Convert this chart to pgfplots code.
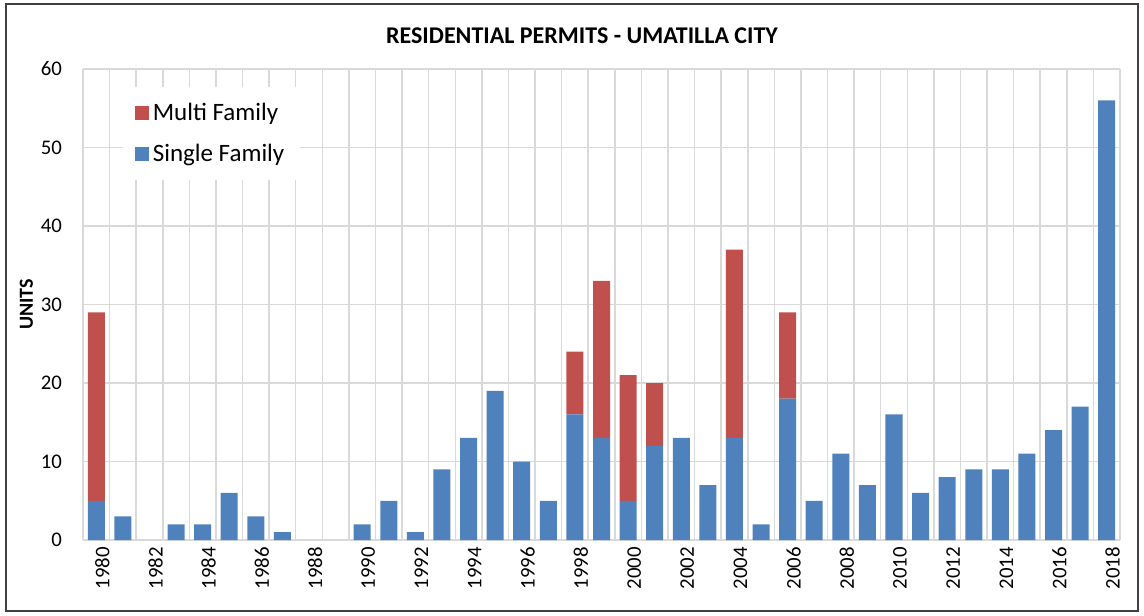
\documentclass[border=0pt]{standalone}
\usepackage{pgfplots}
\pgfplotsset{compat=1.18}
\usepackage{pgfplotstable}
\usepackage{fontspec}
\setmainfont{Carlito}
\definecolor{sfblue}{HTML}{4F81BD}
\definecolor{mfred}{HTML}{C0504D}
\definecolor{gridc}{HTML}{D9D9D9}

\pgfplotstableread{
x sf mf
0 5 24
1 3 0
2 0 0
3 2 0
4 2 0
5 6 0
6 3 0
7 1 0
8 0 0
9 0 0
10 2 0
11 5 0
12 1 0
13 9 0
14 13 0
15 19 0
16 10 0
17 5 0
18 16 8
19 13 20
20 5 16
21 12 8
22 13 0
23 7 0
24 13 24
25 2 0
26 18 11
27 5 0
28 11 0
29 7 0
30 16 0
31 6 0
32 8 0
33 9 0
34 9 0
35 11 0
36 14 0
37 17 0
38 56 0
}\permits

\begin{document}
\begin{tikzpicture}
\path (0,0) rectangle (572pt,307.5pt);
\draw[black!75, line width=0.6pt] (3pt,2pt) rectangle (569pt,305.5pt);
\node[font=\fontsize{12}{14}\selectfont\bfseries] at (291pt,289.5pt) {RESIDENTIAL PERMITS - UMATILLA CITY};
\begin{axis}[
  at={(41.5pt,37.5pt)}, anchor=south west,
  scale only axis, width=518.5pt, height=235.5pt,
  ybar stacked, bar width=8.5pt,
  xmin=-0.5, xmax=38.5, ymin=0, ymax=60,
  ytick={0,10,...,60},
  xtick={0,2,...,38},
  xticklabels={1980,1982,1984,1986,1988,1990,1992,1994,1996,1998,2000,2002,2004,2006,2008,2010,2012,2014,2016,2018},
  minor xtick={-0.5,0.5,...,38.5},
  xminorgrids, ymajorgrids,
  grid style={gridc, line width=0.75pt},
  minor grid style={gridc, line width=0.75pt},
  axis line style={draw=none},
  major tick length=0pt, minor tick length=0pt,
  tick style={draw=none},
  /pgf/number format/assume math mode=true,
  tick label style={font=\fontsize{10.4}{12}\selectfont},
  yticklabel style={xshift=-7pt},
  xticklabel style={rotate=90, anchor=east, yshift=-3pt},
  ylabel={\bfseries UNITS},
  ylabel style={font=\fontsize{10}{12}\selectfont, yshift=-3pt},
  reverse legend,
  legend style={draw=none, fill=white, at={(0.038,0.962)}, anchor=north west,
    font=\fontsize{12.5}{15}\selectfont, row sep=6pt, inner xsep=6pt, inner ysep=6pt},
  legend cell align=left,
  legend image code/.code={\fill[#1] (0pt,-3.5pt) rectangle (7pt,3.5pt);},
]
\addplot[fill=sfblue, draw=none] table[x=x, y=sf] {\permits};
\addlegendentry{Single Family}
\addplot[fill=mfred, draw=none] table[x=x, y=mf] {\permits};
\addlegendentry{Multi Family}
\end{axis}
\end{tikzpicture}
\end{document}
